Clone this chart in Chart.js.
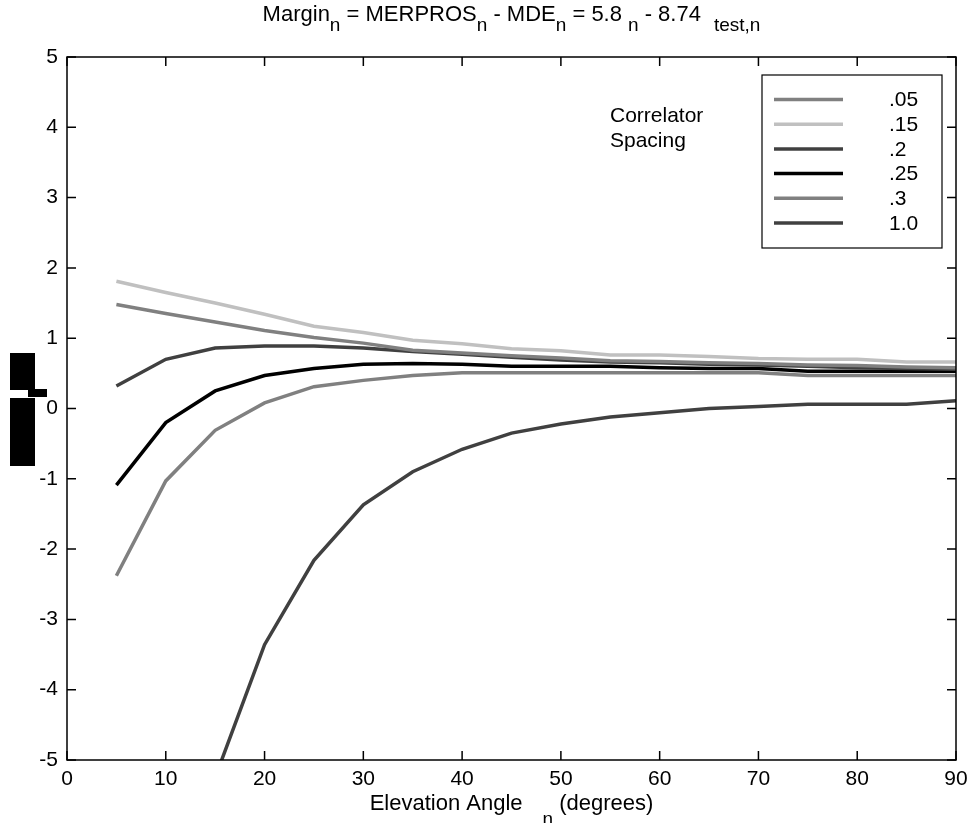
<!DOCTYPE html>
<html>
<head>
<meta charset="utf-8">
<script src="https://cdn.jsdelivr.net/npm/chart.js@4"></script>
<style>
  html, body { margin: 0; padding: 0; background: #fff; }
  canvas { display: block; }
</style>
</head>
<body>
<canvas id="chart" width="970" height="823"></canvas>
<script>
// ---- Data ----
const angles = [5, 10, 15, 20, 25, 30, 35, 40, 45, 50, 55, 60, 65, 70, 75, 80, 85, 90];
const spacingLabels = ['.05', '.15', '.2', '.25', '.3', '1.0'];
const margin05 = [1.48, 1.35, 1.23, 1.11, 1.01, 0.93, 0.83, 0.79, 0.75, 0.72, 0.68, 0.67, 0.65, 0.64, 0.62, 0.61, 0.59, 0.58];
const margin15 = [1.81, 1.65, 1.50, 1.34, 1.17, 1.08, 0.97, 0.92, 0.85, 0.82, 0.76, 0.76, 0.74, 0.71, 0.70, 0.70, 0.66, 0.66];
const margin20 = [0.32, 0.70, 0.86, 0.89, 0.89, 0.86, 0.81, 0.77, 0.73, 0.69, 0.66, 0.65, 0.63, 0.62, 0.60, 0.58, 0.57, 0.56];
const margin25 = [-1.09, -0.20, 0.25, 0.47, 0.57, 0.63, 0.64, 0.63, 0.60, 0.60, 0.60, 0.58, 0.57, 0.57, 0.53, 0.53, 0.53, 0.53];
const margin30 = [-2.38, -1.03, -0.31, 0.08, 0.31, 0.40, 0.47, 0.51, 0.51, 0.51, 0.51, 0.51, 0.51, 0.51, 0.47, 0.47, 0.47, 0.47];
const margin10 = [-12.0, -8.0, -5.25, -3.36, -2.16, -1.37, -0.90, -0.58, -0.35, -0.22, -0.12, -0.06, 0.00, 0.03, 0.06, 0.06, 0.06, 0.11];
const xTicks = [0, 10, 20, 30, 40, 50, 60, 70, 80, 90];
const yTicks = [-5, -4, -3, -2, -1, 0, 1, 2, 3, 4, 5];

const seriesValues = [margin05, margin15, margin20, margin25, margin30, margin10];
const seriesColors = ['#808080', '#c0c0c0', '#404040', '#000000', '#808080', '#404040'];

const FONT = '"Liberation Sans", Arial, Helvetica, sans-serif';
const TICK = 9;

// ---- Helpers ----
// draw text with subscript pieces, centred on cx
function drawRich(ctx, segs, cx, baseY, size, subSize, subDrop) {
  const fontOf = s => (s.sub ? subSize : size) + 'px ' + FONT;
  let total = 0;
  segs.forEach(s => {
    ctx.font = fontOf(s);
    s.w = ctx.measureText(s.t).width;
    total += s.w + (s.gap || 0);
  });
  let x = cx - total / 2;
  ctx.textAlign = 'left';
  ctx.textBaseline = 'alphabetic';
  segs.forEach(s => {
    x += s.gap || 0;
    ctx.font = fontOf(s);
    ctx.fillText(s.t, x, baseY + (s.sub ? subDrop : 0));
    x += s.w;
  });
}

// ---- Frame, ticks, legend and labels ----
const decor = {
  id: 'decor',
  afterDraw(chart) {
    const { ctx, chartArea: a, scales: { x, y } } = chart;
    ctx.save();
    ctx.strokeStyle = '#000';
    ctx.lineWidth = 1.5;
    ctx.strokeRect(a.left, a.top, a.right - a.left, a.bottom - a.top);

    ctx.beginPath();
    xTicks.forEach(v => {
      const px = x.getPixelForValue(v);
      ctx.moveTo(px, a.bottom); ctx.lineTo(px, a.bottom - TICK);
      ctx.moveTo(px, a.top); ctx.lineTo(px, a.top + TICK);
    });
    yTicks.forEach(v => {
      const py = y.getPixelForValue(v);
      ctx.moveTo(a.left, py); ctx.lineTo(a.left + TICK, py);
      ctx.moveTo(a.right, py); ctx.lineTo(a.right - TICK, py);
    });
    ctx.stroke();

    // legend box
    ctx.fillStyle = '#fff';
    ctx.fillRect(762, 75, 180, 173);
    ctx.lineWidth = 1.2;
    ctx.strokeRect(762, 75, 180, 173);
    ctx.font = '21px ' + FONT;
    ctx.textBaseline = 'middle';
    ctx.textAlign = 'left';
    chart.data.datasets.forEach((ds, i) => {
      const ly = 99.5 + i * 24.7;
      ctx.strokeStyle = ds.borderColor;
      ctx.lineWidth = 3.5;
      ctx.beginPath();
      ctx.moveTo(774, ly); ctx.lineTo(843, ly);
      ctx.stroke();
      ctx.fillStyle = '#000';
      ctx.fillText(ds.label, 889, ly + 1);
    });

    ctx.fillStyle = '#000';
    ctx.fillText('Correlator', 610, 116);
    ctx.fillText('Spacing', 610, 141);

    // title
    const cx = (a.left + a.right) / 2;
    drawRich(ctx, [
      { t: 'Margin' }, { t: 'n', sub: true },
      { t: ' = MERPROS' }, { t: 'n', sub: true },
      { t: ' - MDE' }, { t: 'n', sub: true },
      { t: ' = 5.8' }, { t: 'n', sub: true, gap: 6 },
      { t: ' - 8.74' }, { t: 'test,n', sub: true, gap: 13 }
    ], cx, 21, 22, 19, 10);

    // x axis title
    drawRich(ctx, [
      { t: 'Elevation Angle' }, { t: 'n', sub: true, gap: 20 },
      { t: ' (degrees)' }
    ], cx, 810, 22, 19, 15);

    // garbled y-axis label glyphs
    ctx.fillRect(10, 353, 25, 37);
    ctx.fillRect(28, 389, 19, 8);
    ctx.fillRect(10, 398, 25, 68);
    ctx.restore();
  }
};

// ---- Chart ----
const datasets = seriesValues.map((vals, i) => ({
  label: spacingLabels[i],
  data: angles.map((a, j) => ({ x: a, y: vals[j] })),
  borderColor: seriesColors[i],
  borderWidth: 3.5,
  pointRadius: 0,
  tension: 0,
  fill: false
}));

new Chart(document.getElementById('chart'), {
  type: 'line',
  data: { datasets },
  options: {
    responsive: false,
    animation: false,
    layout: { padding: { top: 57, right: 14, left: 0, bottom: 0 } },
    plugins: { legend: { display: false }, title: { display: false }, tooltip: { enabled: false } },
    scales: {
      x: {
        type: 'linear', min: 0, max: 90,
        afterFit: s => { s.height = 63; s.paddingLeft = 0; s.paddingRight = 0; },
        grid: { display: false, drawTicks: false },
        border: { display: false },
        ticks: { stepSize: 10, padding: 7, color: '#000', font: { family: FONT, size: 21 } }
      },
      y: {
        type: 'linear', min: -5, max: 5,
        afterFit: s => { s.width = 67; s.paddingTop = 0; s.paddingBottom = 0; },
        grid: { display: false, drawTicks: false },
        border: { display: false },
        ticks: { stepSize: 1, padding: 9, color: '#000', font: { family: FONT, size: 21 } }
      }
    }
  },
  plugins: [decor]
});
</script>
</body>
</html>
